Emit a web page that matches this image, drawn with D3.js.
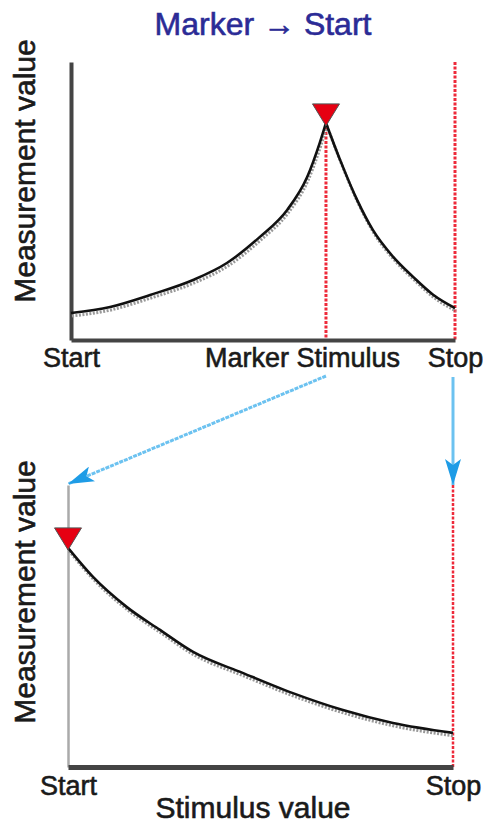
<!DOCTYPE html>
<html>
<head>
<meta charset="utf-8">
<script src="https://cdn.jsdelivr.net/npm/d3@7"></script>
<style>
  body { margin: 0; background: #fff; }
  text { font-family: "Liberation Sans", Arial, sans-serif; }
</style>
</head>
<body>
<svg width="483" height="824"></svg>
<script>
const riseStim  = [0, 10.2, 20.6, 31.8, 40.6, 49.2, 56.3, 61.5, 64.8, 66.4];
const riseValue = [9.7, 11.9, 16.2, 21.6, 27.7, 37.1, 46.8, 58.6, 71.0, 78.1];
const fallStim  = [66.4, 70.1, 74.5, 78.6, 83.9, 89.1, 94.3, 100];
const fallValue = [78.1, 64.7, 50.4, 39.6, 29.9, 22.7, 16.3, 11.5];
const markerStim = 66.4;
const markerValue = 78.1;

// after the move: the marker becomes the new start
const botStim  = [0, 6.5, 15.3, 23.9, 32.5, 45.5, 58.4, 71.4, 84.4, 100];
const botValue = [77.7, 67.4, 56.7, 48.6, 40.8, 33.3, 26.2, 20.2, 15.6, 12.1];

const topTicks = [0, markerStim, 100];
const topTickLabels = ["Start", "Marker Stimulus", "Stop"];
const botTicks = [0, 100];
const botTickLabels = ["Start", "Stop"];

const svg = d3.select("svg");

const xTop = d3.scaleLinear().domain([0, 100]).range([71, 455]);
const yTop = d3.scaleLinear().domain([0, 100]).range([340, 62]);
const xBot = d3.scaleLinear().domain([0, 100]).range([68, 453]);
const yBot = d3.scaleLinear().domain([0, 100]).range([767, 485]);

const redDash = "#ee2a3a";
const ink = "#1a1a1a";

// blurry source text looks heavier, a thin stroke gets close
function heavy(sel, col) {
  sel.style("fill", col).style("stroke", col).style("stroke-width", "0.6px");
}

// title
svg.append("text")
  .attr("x", 263)
  .attr("y", 35)
  .attr("text-anchor", "middle")
  .style("font-size", "32px")
  .call(heavy, "#2b2b96")
  .text("Marker \u2192 Start");

// y labels
[171, 592].forEach(cy => {
  svg.append("text")
    .attr("transform", `translate(35,${cy}) rotate(-90)`)
    .attr("text-anchor", "middle")
    .style("font-size", "30px")
    .call(heavy, ink)
    .text("Measurement value");
});

// ---- top chart
svg.append("line")
  .attr("x1", xTop(markerStim)).attr("x2", xTop(markerStim))
  .attr("y1", yTop(markerValue)).attr("y2", yTop(0))
  .attr("stroke", redDash).attr("stroke-width", 3)
  .attr("stroke-dasharray", "3,1.5");
svg.append("line")
  .attr("x1", xTop(100)).attr("x2", xTop(100))
  .attr("y1", yTop(100)).attr("y2", yTop(0))
  .attr("stroke", redDash).attr("stroke-width", 3)
  .attr("stroke-dasharray", "3,1.5");

const topAxisX = svg.append("g")
  .attr("transform", `translate(0,${yTop(0)})`)
  .call(d3.axisBottom(xTop).tickValues(topTicks).tickSize(0)
    .tickFormat((d, i) => topTickLabels[i]));
const topAxisY = svg.append("g")
  .attr("transform", `translate(${xTop(0)},0)`)
  .call(d3.axisLeft(yTop).tickValues([]).tickSizeOuter(0));

[topAxisX, topAxisY].forEach(a => {
  a.select(".domain").attr("stroke", "#444").attr("stroke-width", 4);
});
topAxisX.selectAll("text")
  .attr("y", 27).attr("dy", 0)
  .attr("dx", (d, i) => i === 1 ? -24 : 0)
  .style("font-size", "27px")
  .style("font-family", "'Liberation Sans', Arial, sans-serif")
  .call(heavy, ink);

const toPts = (xs, vs) => xs.map((s, i) => ({s: s, v: vs[i]}));
const topLine = d3.line().x(d => xTop(d.s)).y(d => yTop(d.v)).curve(d3.curveMonotoneX);

[toPts(riseStim, riseValue), toPts(fallStim, fallValue)].forEach(seg => {
  svg.append("path").datum(seg)
    .attr("d", topLine)
    .attr("transform", "translate(1,3)")
    .attr("fill", "none").attr("stroke", "#999")
    .attr("stroke-width", 3).attr("stroke-dasharray", "2,1.5");
  svg.append("path").datum(seg)
    .attr("d", topLine)
    .attr("fill", "none").attr("stroke", "#111")
    .attr("stroke-width", 2.6);
});

// ---- bottom chart
svg.append("line")
  .attr("x1", xBot(100)).attr("x2", xBot(100))
  .attr("y1", yBot(100)).attr("y2", yBot(0))
  .attr("stroke", redDash).attr("stroke-width", 2.5)
  .attr("stroke-dasharray", "3,1.5");

const botAxisY = svg.append("g")
  .attr("transform", `translate(${xBot(0)},0)`)
  .call(d3.axisLeft(yBot).tickValues([]).tickSizeOuter(0));
botAxisY.select(".domain").attr("stroke", "#aaa").attr("stroke-width", 2.5);

const botAxisX = svg.append("g")
  .attr("transform", `translate(0,${yBot(0)})`)
  .call(d3.axisBottom(xBot).tickValues(botTicks).tickSize(0)
    .tickFormat((d, i) => botTickLabels[i]));
botAxisX.select(".domain").attr("stroke", "#444").attr("stroke-width", 5);
botAxisX.selectAll("text")
  .attr("y", 28).attr("dy", 0)
  .style("font-size", "27px")
  .style("font-family", "'Liberation Sans', Arial, sans-serif")
  .call(heavy, ink);

svg.append("text")
  .attr("x", 253)
  .attr("y", 818)
  .attr("text-anchor", "middle")
  .style("font-size", "30px")
  .call(heavy, ink)
  .text("Stimulus value");

const botData = toPts(botStim, botValue);
const botLine = d3.line().x(d => xBot(d.s)).y(d => yBot(d.v)).curve(d3.curveMonotoneX);

svg.append("path").datum(botData)
  .attr("d", botLine)
  .attr("transform", "translate(1,3)")
  .attr("fill", "none").attr("stroke", "#999")
  .attr("stroke-width", 3).attr("stroke-dasharray", "2,1.5");
svg.append("path").datum(botData)
  .attr("d", botLine)
  .attr("fill", "none").attr("stroke", "#111")
  .attr("stroke-width", 2.6);

// ---- markers (down triangles, tip on the curve)
const tri = "M-13.5,-22L13.5,-22L0,0Z";
svg.append("path")
  .attr("d", tri)
  .attr("transform", `translate(${xTop(markerStim)},${yTop(markerValue) + 3})`)
  .attr("fill", "#e60012").attr("stroke", "#555").attr("stroke-width", 1);
svg.append("path")
  .attr("d", tri)
  .attr("transform", `translate(${xBot(0)},${yBot(botValue[0]) + 2})`)
  .attr("fill", "#e60012").attr("stroke", "#555").attr("stroke-width", 1);

// ---- blue arrows
const defs = svg.append("defs");
defs.append("marker")
  .attr("id", "head")
  .attr("markerUnits", "userSpaceOnUse")
  .attr("viewBox", "0 -8 26 16")
  .attr("refX", 26).attr("refY", 0)
  .attr("markerWidth", 26).attr("markerHeight", 16)
  .attr("orient", "auto")
  .append("path")
  .attr("d", "M0,-8L26,0L0,8L6,0Z")
  .attr("fill", "#1e9ce6");

svg.append("line")
  .attr("x1", xTop(markerStim)).attr("y1", 376)
  .attr("x2", xBot(0)).attr("y2", 484)
  .attr("stroke", "#6cc2f0").attr("stroke-width", 3)
  .attr("stroke-dasharray", "4,1")
  .attr("marker-end", "url(#head)");
svg.append("line")
  .attr("x1", xTop(100) - 2).attr("y1", 377)
  .attr("x2", xBot(100)).attr("y2", 485)
  .attr("stroke", "#6cc2f0").attr("stroke-width", 3)
  .attr("marker-end", "url(#head)");
</script>
</body>
</html>
